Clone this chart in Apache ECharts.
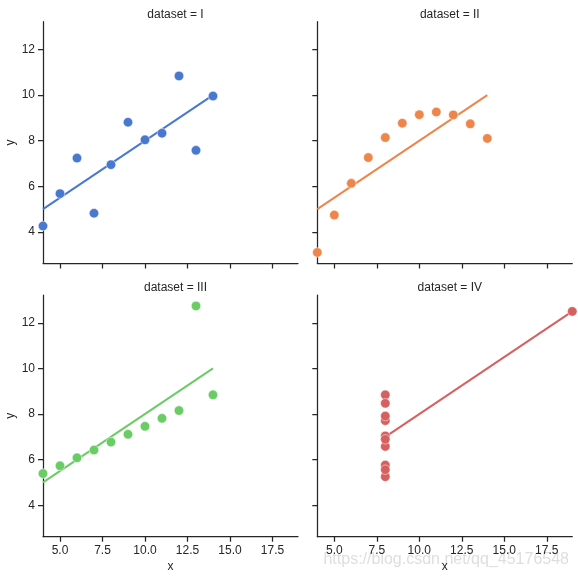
<!DOCTYPE html>
<html>
<head>
<meta charset="utf-8">
<script src="https://cdn.jsdelivr.net/npm/echarts@6/dist/echarts.min.js"></script>
<style>
html, body { margin: 0; padding: 0; background: #fff; }
#chart { width: 578px; height: 578px; }
</style>
</head>
<body>
<div id="chart"></div>
<script>
// Anscombe's quartet
var datasetNames = ['I', 'II', 'III', 'IV'];
var xI = [10, 8, 13, 9, 11, 14, 6, 4, 12, 7, 5];
var xIV = [8, 8, 8, 8, 8, 8, 8, 19, 8, 8, 8];
var yI = [8.04, 6.95, 7.58, 8.81, 8.33, 9.96, 7.24, 4.26, 10.84, 4.82, 5.68];
var yII = [9.14, 8.14, 8.74, 8.77, 9.26, 8.10, 6.13, 3.10, 9.13, 7.26, 4.74];
var yIII = [7.46, 6.77, 12.74, 7.11, 7.81, 8.84, 6.08, 5.39, 8.15, 6.42, 5.73];
var yIV = [6.58, 5.76, 7.71, 8.84, 8.47, 7.04, 5.25, 12.50, 5.56, 7.91, 6.89];
var xTicks = [5, 7.5, 10, 12.5, 15, 17.5];
var yTicks = [4, 6, 8, 10, 12];

var xs = [xI, xI, xI, xIV];
var ys = [yI, yII, yIII, yIV];
var colors = ['#4878d0', '#ee854a', '#6acc64', '#d65f5f'];
var ink = '#262626';
var font = 'Liberation Sans, Arial, sans-serif';

function fit(x, y) {
	var n = x.length, mx = 0, my = 0, sxy = 0, sxx = 0;
	for (var i = 0; i < n; i++) { mx += x[i] / n; my += y[i] / n; }
	for (var j = 0; j < n; j++) {
		sxy += (x[j] - mx) * (y[j] - my);
		sxx += (x[j] - mx) * (x[j] - mx);
	}
	var b = sxy / sxx, a = my - b * mx;
	var lo = Math.min.apply(null, x), hi = Math.max.apply(null, x);
	return [[lo, a + b * lo], [hi, a + b * hi]];
}

var lefts = [43, 317.3], tops = [21.7, 295];
var W = 255, H = 241.7;
var grids = [], xAxes = [], yAxes = [], series = [], titles = [];

datasetNames.forEach(function(name, k) {
	var col = k % 2, row = Math.floor(k / 2);
	grids.push({ left: lefts[col], top: tops[row], width: W, height: H });
	titles.push({
		text: 'dataset = ' + name,
		left: lefts[col] + W / 2, top: tops[row] - 18,
		textAlign: 'center',
		textStyle: { fontSize: 12, fontWeight: 'normal', color: ink, fontFamily: font }
	});
	xAxes.push({
		type: 'value', gridIndex: k, min: 4, max: 19,
		name: row == 1 ? 'x' : '', nameLocation: 'middle', nameGap: 24,
		nameTextStyle: { fontSize: 12, color: ink, fontFamily: font },
		axisLine: { show: true, onZero: false, lineStyle: { color: ink, width: 1.25 } },
		axisTick: { show: true, length: 5, customValues: xTicks, lineStyle: { color: ink, width: 1.25 } },
		axisLabel: {
			show: row == 1, customValues: xTicks, margin: 8,
			fontSize: 12, color: ink, fontFamily: font,
			formatter: function(v) { return v.toFixed(1); }
		},
		splitLine: { show: false }
	});
	yAxes.push({
		type: 'value', gridIndex: k, min: 2.62, max: 13.22,
		name: col == 0 ? 'y' : '', nameLocation: 'middle', nameGap: 26, nameRotate: 90,
		nameTextStyle: { fontSize: 12, color: ink, fontFamily: font },
		axisLine: { show: true, onZero: false, lineStyle: { color: ink, width: 1.25 } },
		axisTick: { show: true, length: 5, customValues: yTicks, lineStyle: { color: ink, width: 1.25 } },
		axisLabel: {
			show: col == 0, customValues: yTicks, margin: 8,
			fontSize: 12, color: ink, fontFamily: font
		},
		splitLine: { show: false }
	});
	var pts = xs[k].map(function(v, i) { return [v, ys[k][i]]; });
	series.push({
		type: 'scatter', xAxisIndex: k, yAxisIndex: k, data: pts,
		symbolSize: 9.5, clip: false,
		itemStyle: { color: colors[k], opacity: 1, borderColor: '#fff', borderWidth: 0.5 }, z: 3
	});
	series.push({
		type: 'line', xAxisIndex: k, yAxisIndex: k, data: fit(xs[k], ys[k]),
		symbol: 'none', lineStyle: { color: colors[k], width: 2 }, z: 2
	});
});

var chart = echarts.init(document.getElementById('chart'));
chart.setOption({
	backgroundColor: '#fff',
	animation: false,
	title: titles,
	grid: grids,
	xAxis: xAxes,
	yAxis: yAxes,
	series: series,
	graphic: [{
		type: 'text', right: 9, bottom: 10,
		style: { text: 'https://blog.csdn.net/qq_45176548', fontSize: 16, fill: 'rgba(200,200,200,0.6)', fontFamily: font }
	}]
});
</script>
</body>
</html>
